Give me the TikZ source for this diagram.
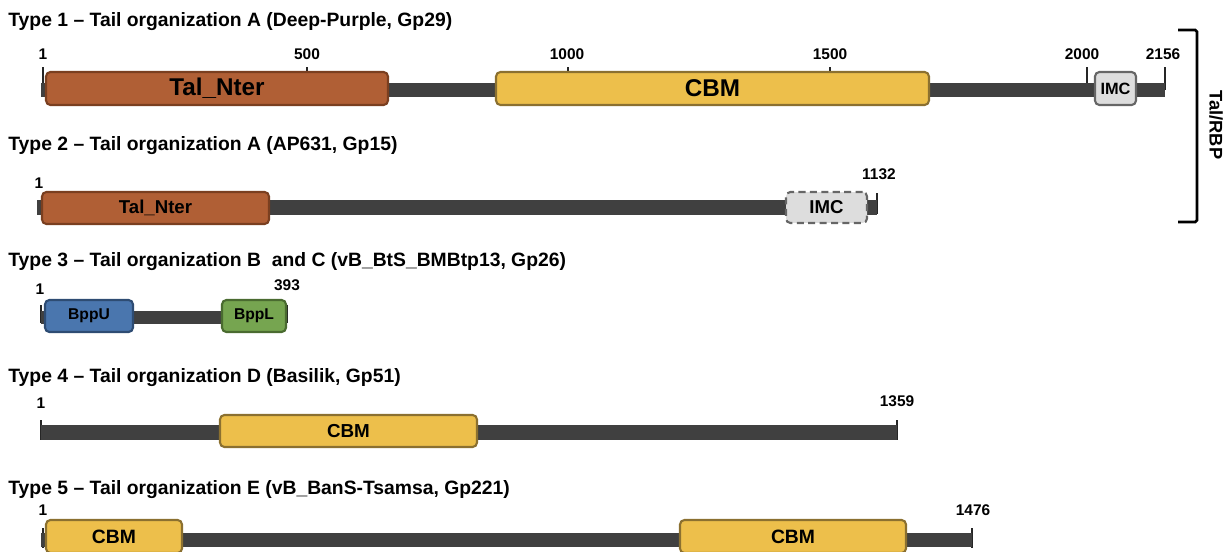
\documentclass[tikz,border=0pt]{standalone}
\usepackage{fontspec}
\setmainfont{Liberation Sans}
\usetikzlibrary{positioning}
\definecolor{barc}{HTML}{404040}
\definecolor{talf}{HTML}{B05F35}\definecolor{tald}{HTML}{7A3F20}
\definecolor{cbmf}{HTML}{EDBF4B}\definecolor{cbmd}{HTML}{8B7030}
\definecolor{imcf}{HTML}{DDDDDD}\definecolor{imcd}{HTML}{666666}
\definecolor{bppuf}{HTML}{4A76AE}\definecolor{bppud}{HTML}{2E4C73}
\definecolor{bpplf}{HTML}{76A550}\definecolor{bppld}{HTML}{4A6B30}
\tikzset{dom/.style={draw,rounded corners=2.5pt,line width=1.2pt,inner sep=0pt,minimum height=0.64cm,align=center},
 tal/.style={dom,fill=talf,draw=tald},cbm/.style={dom,fill=cbmf,draw=cbmd},imc/.style={dom,fill=imcf,draw=imcd},
 bu/.style={dom,fill=bppuf,draw=bppud},bl/.style={dom,fill=bpplf,draw=bppld},
 bar/.style={draw=barc,line width=8.2pt},tk/.style={draw=black!85,line width=0.9pt},
 num/.style={anchor=base,inner sep=0pt,font=\fontsize{8.8}{10}\selectfont\bfseries},
 ttl/.style={anchor=base west,inner sep=0pt,font=\fontsize{11}{13}\selectfont\bfseries},
 fs/.style={font=\fontsize{#1}{#1}\selectfont\bfseries}}

\begin{document}
\begin{tikzpicture}[x=0.02cm,y=-0.02cm]
\clip (0,0) rectangle (1227,551);
\node[ttl](t1) at (8,27){Type 1 -- Tail organization A (Deep-Purple, Gp29)};
\node[ttl](t2) at (8,150){Type 2 -- Tail organization A (AP631, Gp15)};
\node[ttl](t3) at (8,266){Type 3 -- Tail organization B\ \ and C (vB\_BtS\_BMBtp13, Gp26)};
\node[ttl](t4) at (8,382){Type 4 -- Tail organization D (Basilik, Gp51)};
\node[ttl](t5) at (8,494){Type 5 -- Tail organization E (vB\_BanS-Tsamsa, Gp221)};
\coordinate(a0) at (41,90);\coordinate(a1) at (1165,90);
\coordinate(b0) at (37,207.5);\coordinate(b1) at (877,207.5);
\coordinate(c0) at (41,317);\coordinate(c1) at (287,317);
\coordinate(d0) at (41,432.5);\coordinate(d1) at (897,432.5);
\coordinate(e0) at (41,540);\coordinate(e1) at (972,540);
\foreach \x/\t in {43/1,307/500,568/1000,830/1500,1087/2000,1165/2156}{\draw[tk](\x,67)--(\x,90);}
\foreach \x/\t in {43/1,307/500,567/1000,830/1500,1082/2000,1163/2156}{\node[num](n1-\t) at (\x,59){\t};}
\draw[tk](877,193)--(877,214);\draw[tk](41,305)--(41,323);\draw[tk](287,305)--(287,323);
\draw[tk](41,420)--(41,440);\draw[tk](897,420)--(897,440);\draw[tk](43,528)--(43,548);\draw[tk](972,528)--(972,548);
\draw[bar](a0)--(a1);\draw[bar](b0)--(b1);\draw[bar,line width=7.4pt](c0)--(c1);\draw[bar](d0)--(d1);\draw[bar](e0)--(e1);
\node[tal,fs=13.8,minimum width=6.84cm,minimum height=0.66cm](tn1) at (217,88.5){Tal\_Nter};
\node[cbm,fs=13.8,minimum width=8.66cm,minimum height=0.66cm](cb1) at (712.5,88.5){CBM};
\node[imc,fs=9.3,minimum width=0.82cm,minimum height=0.66cm](im1) at (1115.5,88.5){IMC};
\node[num](n2-1) at (39,188){1};\node[num](n2-2) at (879,179){1132};
\node[tal,fs=10.6,minimum width=4.54cm](tn2) at (155.5,208){Tal\_Nter};
\node[imc,fs=10.6,dash pattern=on 4pt off 2.5pt,minimum width=1.62cm,minimum height=0.62cm](im2) at (826.5,207.5){IMC};
\node[num](n3-1) at (40,294){1};\node[num](n3-2) at (287,290){393};
\node[bu,fs=8.9,minimum width=1.76cm](bu3) at (89,316){BppU};
\node[bl,fs=8.9,minimum width=1.28cm](bl3) at (254,316){BppL};
\node[num](n4-1) at (41,408){1};\node[num](n4-2) at (897,406){1359};
\node[cbm,fs=10.7,minimum width=5.14cm](cb4) at (348.5,431){CBM};
\node[num](n5-1) at (43,515){1};\node[num](n5-2) at (973,515){1476};
\node[cbm,fs=11,minimum width=2.72cm,minimum height=0.66cm](cb5a) at (114,536.5){CBM};
\node[cbm,fs=11,minimum width=4.52cm,minimum height=0.66cm](cb5b) at (793,536.5){CBM};
\coordinate(k0) at (1178,30);\coordinate(k1) at (1197,30);\coordinate(k2) at (1197,222);\coordinate(k3) at (1178,222);
\draw[line width=1.5pt,rounded corners=1pt](k0)--(k1)--(k2)--(k3);
\node[rotate=-90,inner sep=0pt,fs=10.4](rbp) at (1216,125){Tal/RBP};
\end{tikzpicture}
\end{document}
